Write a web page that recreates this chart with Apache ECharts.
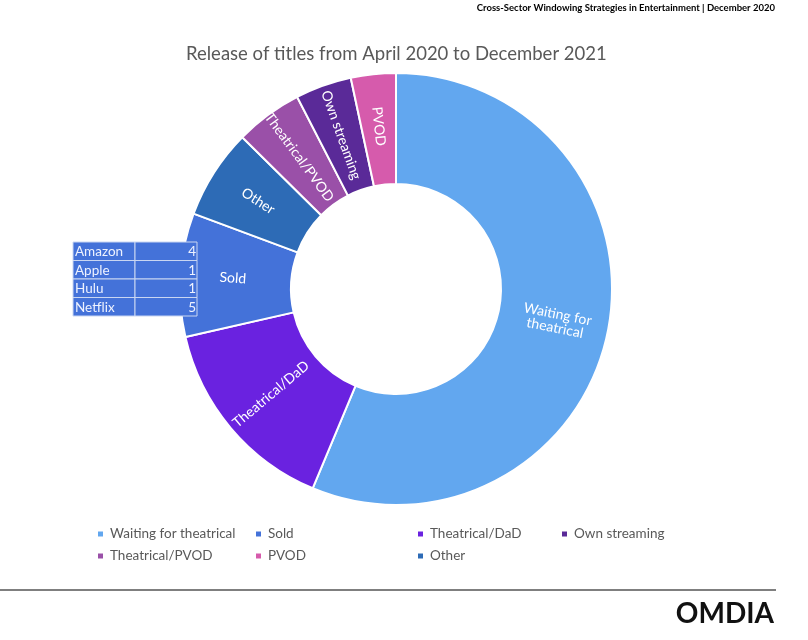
<!DOCTYPE html>
<html>
<head>
<meta charset="utf-8">
<script src="https://cdn.jsdelivr.net/npm/echarts@6/dist/echarts.min.js"></script>
<style>html,body{margin:0;padding:0;background:#fff}#c{width:808px;height:640px}</style>
</head>
<body>
<div id="c"></div>
<script>
const categories = ['Waiting for theatrical','Theatrical/DaD','Sold','Other','Theatrical/PVOD','Own streaming','PVOD'];
const values = [67, 18, 11, 8, 6, 5, 4];
const labelTexts = ['Waiting for\ntheatrical','Theatrical/DaD','Sold','Other','Theatrical/PVOD','Own streaming','PVOD'];
const colors = ['#62a7ef','#6a22e0','#4472d9','#2d6bb6','#9a50a8','#5a2a98','#d65bac'];
const legendOrder = ['Waiting for theatrical','Sold','Theatrical/DaD','Own streaming','Theatrical/PVOD','PVOD','Other'];
const soldBuyers = ['Amazon','Apple','Hulu','Netflix'];
const soldCounts = [4, 1, 1, 5];

const FONT = 'Lato';
const chart = echarts.init(document.getElementById('c'), null, {renderer:'canvas'});

const legendPos = [[96,527],[254,527],[416,527],[560,527],[96,549],[254,549],[416,549]];
const legends = legendOrder.map((n,i)=>({
  data:[n], left:legendPos[i][0], top:legendPos[i][1], orient:'horizontal', padding:0,
  icon:'rect', itemWidth:7, itemHeight:7, itemGap:6,
  textStyle:{color:'#595959', fontSize:13.5, fontFamily:FONT, padding:[0,0,0,1]}
}));

const graphics = [];
const tx = 73, ty = 242, rowH = 18.5, c1 = 62, c2 = 62;
soldBuyers.forEach((b,i)=>{
  graphics.push({type:'rect', z:10, shape:{x:tx, y:ty+i*rowH, width:c1, height:rowH}, style:{fill:'#4472d9', stroke:'#c9d6f2', lineWidth:1}});
  graphics.push({type:'rect', z:10, shape:{x:tx+c1, y:ty+i*rowH, width:c2, height:rowH}, style:{fill:'#4472d9', stroke:'#c9d6f2', lineWidth:1}});
  graphics.push({type:'text', z:11, x:tx+2, y:ty+i*rowH+rowH/2+0.5, style:{text:b, fill:'#eef2ff', font:'13.5px '+FONT, textVerticalAlign:'middle'}});
  graphics.push({type:'text', z:11, x:tx+c1+c2-1, y:ty+i*rowH+rowH/2+0.5, style:{text:String(soldCounts[i]), fill:'#eef2ff', font:'13.5px '+FONT, textAlign:'right', textVerticalAlign:'middle'}});
});
graphics.push({type:'text', right:33, top:3, style:{text:'Cross-Sector Windowing Strategies in Entertainment | December 2020', fill:'#000', font:'bold 9.5px '+FONT}});
graphics.push({type:'line', shape:{x1:0, y1:590, x2:776, y2:590}, style:{stroke:'#555', lineWidth:1.5}});
graphics.push({type:'text', right:34, top:600, style:{text:'OMDIA', fill:'#111', font:'bold 28px '+FONT}});

chart.setOption({
  animation:false,
  title:{text:'Release of titles from April 2020 to December 2021', left:181, top:40,
    textStyle:{color:'#595959', fontSize:18.5, fontWeight:'normal', fontFamily:FONT}},
  legend:legends,
  graphic:graphics,
  series:[{
    type:'pie', center:[396,289], radius:[105,216], startAngle:90, clockwise:true,
    z:2,
    itemStyle:{borderColor:'#fff', borderWidth:2},
    label:{show:true, position:'inside', rotate:'radial', color:'#fff', fontSize:14, fontFamily:FONT,
      formatter:p=>labelTexts[p.dataIndex]},
    labelLine:{show:false},
    emphasis:{disabled:true},
    data:categories.map((n,i)=>({name:n, value:values[i], itemStyle:{color:colors[i]}}))
  }]
});
</script>
</body>
</html>
